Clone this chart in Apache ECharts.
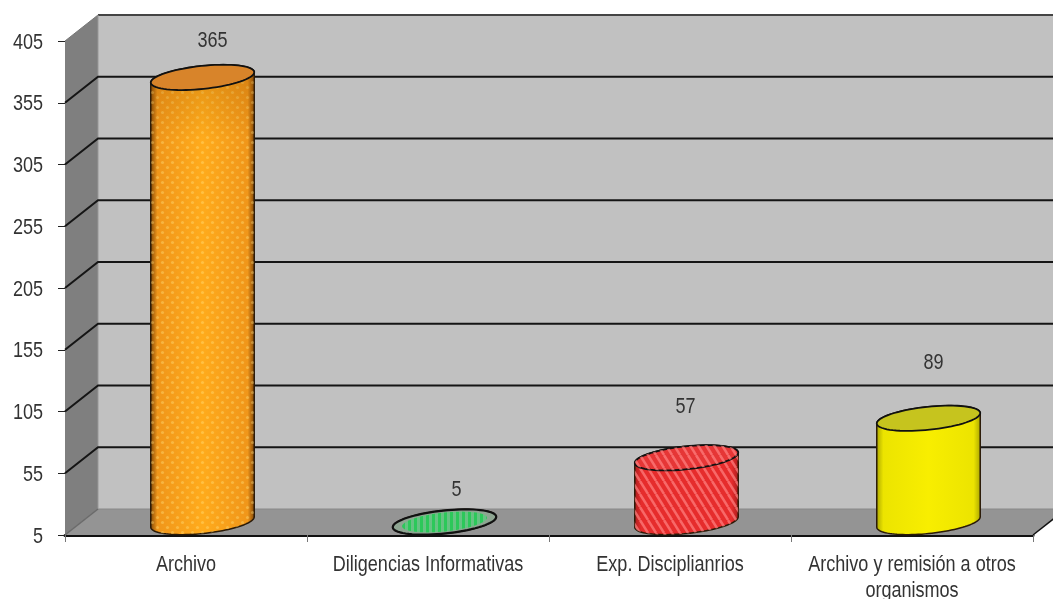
<!DOCTYPE html>
<html>
<head>
<meta charset="utf-8">
<style>html,body{margin:0;padding:0;background:#fff}#c{width:1053px;height:599px}</style>
<script src="https://cdn.jsdelivr.net/npm/echarts@6/dist/echarts.min.js"></script>
</head>
<body>
<div id="c"></div>
<script>
const categories = ['Archivo', 'Diligencias Informativas', 'Exp. Disciplianrios', 'Archivo y remisión a otros\norganismos'];
const values = [365, 5, 57, 89];
const tickValues = [5, 55, 105, 155, 205, 255, 305, 355, 405];

const FONT = '"Liberation Sans", Arial, sans-serif';
const NARROW = 0.82, TXT = '#333333';
const DX = 33, DY = 26, A = 52, B = 11.5, TH = -6 * Math.PI / 180;
const labelShift = [[10, -25], [12, -21], [-1, -40], [5, -44]];

function pattern(kind) {
  const c = document.createElement('canvas');
  const x = c.getContext('2d');
  if (kind === 'dots') {
    c.width = 10; c.height = 10;
    x.fillStyle = 'rgba(255,225,130,0.38)';
    [[2.5, 2.5], [7.5, 7.5]].forEach(p => { x.beginPath(); x.arc(p[0], p[1], 1.6, 0, 7); x.fill(); });
  } else if (kind === 'stripes') {
    c.width = 8; c.height = 13;
    x.strokeStyle = 'rgba(255,130,130,0.7)';
    x.lineWidth = 2.5;
    [-8, 0, 8].forEach(o => { x.beginPath(); x.moveTo(o, 0); x.lineTo(o + 8, 13); x.stroke(); });
  } else if (kind === 'vbars') {
    c.width = 6; c.height = 9;
    x.fillStyle = '#2cc85a';
    x.fillRect(0, 0, 3, 9);
    x.fillStyle = 'rgba(90,205,125,0.75)';
    x.fillRect(3, 0, 3, 9);
  }
  return c;
}

const looks = [
  { top: '#d8842a', edge: '#7a4206', side: '#f0961a', mid: '#ffab1c', pat: 'dots', patTop: null },
  { top: '#8ea592', edge: '#2a8a3a', side: '#30c050', mid: '#30c050', pat: null, patTop: 'vbars' },
  { top: '#e63636', edge: '#a81c1c', side: '#e62c2c', mid: '#e62c2c', pat: 'stripes', patTop: 'stripes' },
  { top: '#c6c41e', edge: '#a8a400', side: '#ece400', mid: '#f8ee00', pat: null, patTop: null }
];
const patterns = { dots: pattern('dots'), stripes: pattern('stripes'), vbars: pattern('vbars') };
function patFill(k) { return { image: patterns[k], repeat: 'repeat' }; }

function ellPt(cx, cy, t, k) {
  const cs = Math.cos(TH), sn = Math.sin(TH);
  const px = A * k * Math.cos(t), py = B * k * Math.sin(t);
  return [cx + px * cs - py * sn, cy + px * sn + py * cs];
}
function ellipsePoints(cx, cy, k) {
  const pts = [];
  for (let i = 0; i < 72; i++) pts.push(ellPt(cx, cy, i / 72 * 2 * Math.PI, k));
  return pts;
}
function bodyPoints(cx, topY, botY) {
  const t0 = Math.atan2(-B * Math.sin(TH), A * Math.cos(TH));
  const pts = [];
  for (let i = 0; i <= 48; i++) pts.push(ellPt(cx, botY, t0 + i / 48 * Math.PI, 1));
  for (let i = 0; i <= 48; i++) pts.push(ellPt(cx, topY, t0 + Math.PI + i / 48 * Math.PI, 1));
  return pts;
}

function renderWalls(params, api) {
  const g = params.coordSys;
  const fx0 = g.x, fx1 = g.x + g.width;
  const y0 = api.coord([0, 5])[1], yT = api.coord([0, 405])[1];
  const kids = [
    { type: 'rect', shape: { x: fx0 + DX, y: yT - DY, width: g.width + 40, height: y0 - yT },
      style: { fill: '#c1c1c1' } },
    { type: 'polygon', shape: { points: [[fx0, yT], [fx0 + DX, yT - DY], [fx0 + DX, y0 - DY], [fx0, y0]] },
      style: { fill: '#7f7f7f' } },
    { type: 'polygon', shape: { points: [[fx0, y0], [fx1, y0], [fx1 + DX, y0 - DY], [fx0 + DX, y0 - DY]] },
      style: { fill: '#949494' } },
    { type: 'line', shape: { x1: fx0, y1: yT, x2: fx0 + DX, y2: yT - DY }, style: { stroke: '#777', lineWidth: 1 } },
    { type: 'line', shape: { x1: fx0 + DX, y1: yT - DY, x2: fx1 + DX, y2: yT - DY }, style: { stroke: '#444', lineWidth: 2 } },
    { type: 'line', shape: { x1: fx0 + DX, y1: y0 - DY, x2: fx1 + DX, y2: y0 - DY }, style: { stroke: '#888', lineWidth: 1 } },
    { type: 'line', shape: { x1: fx0 + DX, y1: yT - DY, x2: fx0 + DX, y2: y0 - DY }, style: { stroke: '#999', lineWidth: 1 } },
    { type: 'line', shape: { x1: fx0, y1: y0, x2: fx0 + DX, y2: y0 - DY }, style: { stroke: '#6a6a6a', lineWidth: 1.5 } },
    { type: 'line', shape: { x1: fx1, y1: y0, x2: fx1 + DX, y2: y0 - DY }, style: { stroke: '#111', lineWidth: 1.5 } }
  ];
  tickValues.forEach(v => {
    if (v === 5 || v === 405) return;
    const y = api.coord([0, v])[1];
    kids.push({ type: 'polyline', shape: { points: [[fx0, y], [fx0 + DX, y - DY], [fx1 + DX, y - DY]] },
      style: { fill: 'none', stroke: '#151515', lineWidth: 2 } });
  });
  return { type: 'group', children: kids };
}

function narrowText(text, x, y, align, size) {
  return { type: 'text', x: x, y: y + 1.5, scaleX: NARROW,
    style: { text: text, fill: TXT, font: size + 'px ' + FONT,
      textAlign: align, textVerticalAlign: 'middle' } };
}

function renderAxisText(params, api) {
  const g = params.coordSys;
  const kids = [];
  tickValues.forEach(v => {
    kids.push(narrowText(String(v), g.x - 22, api.coord([0, v])[1], 'right', 22));
  });
  categories.forEach((c, i) => {
    c.split('\n').forEach((ln, j) => {
      kids.push(narrowText(ln, api.coord([i, 5])[0], g.y + g.height + 28 + j * 26, 'center', 22));
    });
  });
  return { type: 'group', children: kids };
}

function renderCyl(params, api) {
  const i = api.value(0), v = api.value(1);
  const p = api.coord([i, v]);
  const base = api.coord([i, 5]);
  const cx = p[0] + DX / 2, topY = p[1] - DY / 2, botY = base[1] - DY / 2;
  const L = looks[i];
  const grad = { type: 'linear', x: 0, y: 0, x2: 1, y2: 0, colorStops: [
    { offset: 0, color: L.edge }, { offset: 0.07, color: L.side }, { offset: 0.5, color: L.mid },
    { offset: 0.93, color: L.side }, { offset: 1, color: L.edge }] };
  const body = bodyPoints(cx, topY, botY);
  const top = ellipsePoints(cx, topY, 1);
  const kids = [{ type: 'polygon', shape: { points: body }, style: { fill: grad, stroke: '#2a1a08', lineWidth: 1.5 } }];
  if (L.pat) kids.push({ type: 'polygon', shape: { points: body }, style: { fill: patFill(L.pat) } });
  if (i === 0) kids.push({ type: 'polygon', shape: { points: body }, style: { fill: {
    type: 'linear', x: 0, y: 0, x2: 0, y2: 1, colorStops: [
      { offset: 0, color: 'rgba(150,80,0,0.3)' }, { offset: 0.16, color: 'rgba(150,80,0,0)' }, { offset: 1, color: 'rgba(150,80,0,0)' }] } } });
  kids.push({ type: 'polygon', shape: { points: top }, style: { fill: L.top, stroke: '#111', lineWidth: v < 10 ? 2.2 : 1.8 } });
  if (L.patTop) {
    const inner = v < 10 ? ellipsePoints(cx, topY, 0.82) : top;
    kids.push({ type: 'polygon', shape: { points: inner }, style: { fill: patFill(L.patTop) } });
  }
  const s = labelShift[i];
  kids.push(narrowText(String(v), cx + s[0], topY - 12.5 + s[1], 'center', 22));
  return { type: 'group', children: kids };
}

const chart = echarts.init(document.getElementById('c'), null, { renderer: 'canvas', width: 1053, height: 599 });
chart.setOption({
  animation: false,
  backgroundColor: '#ffffff',
  grid: { left: 65, right: 20, top: 41, bottom: 64, containLabel: false },
  xAxis: {
    type: 'category', data: categories, boundaryGap: true,
    axisLine: { show: true, onZero: false, lineStyle: { color: '#111', width: 3 } },
    axisTick: { show: true, alignWithLabel: false, length: 7, lineStyle: { color: '#777', width: 1 } },
    axisLabel: { show: false },
    splitLine: { show: false }
  },
  yAxis: {
    type: 'value', min: 5, max: 405,
    axisLine: { show: false },
    axisTick: { show: true, length: 7, customValues: tickValues, lineStyle: { color: '#222', width: 1 } },
    axisLabel: { show: false },
    splitLine: { show: false }
  },
  series: [
    { type: 'custom', name: 'walls', z: 1, silent: true, data: [[0, 5]], encode: { x: 0, y: 1 }, renderItem: renderWalls },
    { type: 'custom', name: 'axisText', z: 2, silent: true, data: [[0, 5]], encode: { x: 0, y: 1 }, renderItem: renderAxisText },
    { type: 'custom', name: 'values', z: 3, silent: true, data: values.map((v, i) => [i, v]), encode: { x: 0, y: 1 }, renderItem: renderCyl }
  ]
});
</script>
</body>
</html>
